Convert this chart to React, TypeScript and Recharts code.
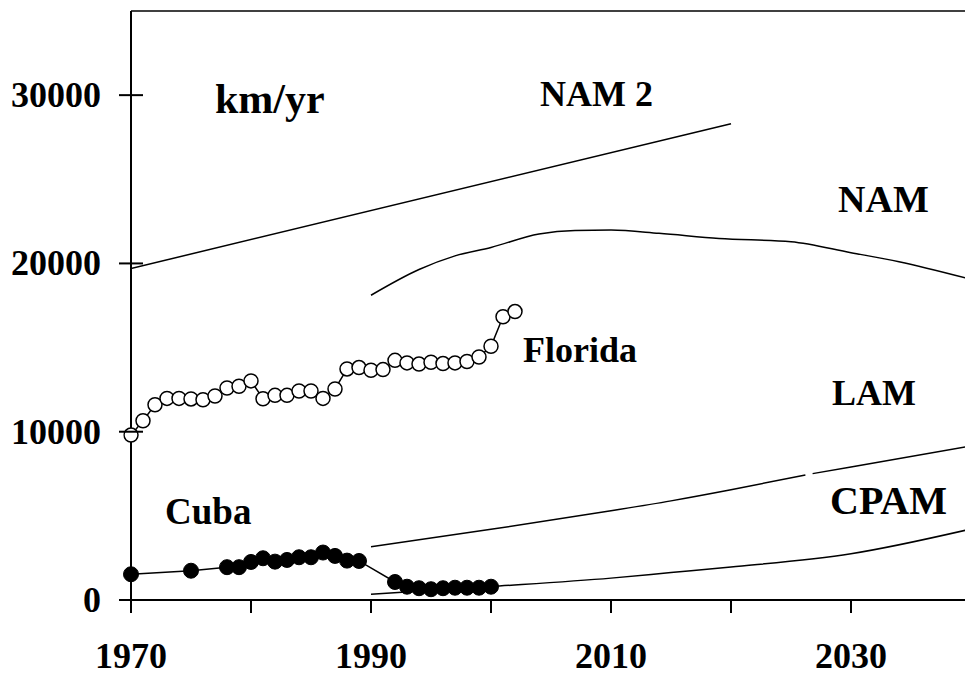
import React from 'react';
import { LineChart, Line, XAxis, YAxis, ReferenceLine } from 'recharts';

// Florida (open circles)
const floridaYears = [1970,1971,1972,1973,1974,1975,1976,1977,1978,1979,1980,1981,1982,1983,1984,1985,1986,1987,1988,1989,1990,1991,1992,1993,1994,1995,1996,1997,1998,1999,2000,2001,2002];
const floridaValues = [9800,10650,11600,11980,11980,11950,11900,12120,12600,12700,13020,11960,12160,12160,12420,12420,11980,12540,13730,13810,13650,13690,14240,14090,14020,14130,14050,14090,14170,14440,15080,16830,17140];

// Cuba (filled circles)
const cubaYears = [1970,1975,1978,1979,1980,1981,1982,1983,1984,1985,1986,1987,1988,1989,1992,1993,1994,1995,1996,1997,1998,1999,2000];
const cubaValues = [1530,1740,1950,1950,2260,2480,2280,2380,2540,2540,2820,2620,2340,2320,1070,790,700,640,700,730,730,730,790];

// Projections
const nam2Years = [1970, 2020];
const nam2Values = [19700, 28300];

const namYears = [1990,1994,1997,2000,2004,2007,2010,2014,2019,2025,2030,2034,2040];
const namValues = [18110,19640,20450,20950,21750,21960,21980,21790,21480,21290,20640,20100,19050];

// LAM is drawn in two pieces (small break near 2026 in the original)
const lamAYears = [1990,2000,2010,2015,2020,2026.2];
const lamAValues = [3170,4200,5300,5890,6550,7430];
const lamBYears = [2026.8,2030,2040];
const lamBValues = [7510,7900,9150];

const cpamYears = [1990,2000,2010,2015,2020,2030,2040];
const cpamValues = [340,800,1300,1630,1960,2750,4220];

const xTicks = [1970,1980,1990,2000,2010,2020,2030];
const yTicks = [0,10000,20000,30000];

const zip = (ys: number[], vs: number[]) => ys.map((year, i) => ({ year, v: vs[i] }));

const florida = zip(floridaYears, floridaValues);
const cuba = zip(cubaYears, cubaValues);
const nam2 = zip(nam2Years, nam2Values);
const nam = zip(namYears, namValues);
const lamA = zip(lamAYears, lamAValues);
const lamB = zip(lamBYears, lamBValues);
const cpam = zip(cpamYears, cpamValues);

const FONT = '"Liberation Serif", "Times New Roman", serif';

const XTick = (props: any) => {
  const { x, y, payload } = props;
  const labeled = payload.value % 20 === 10;
  return (
    <g>
      <line x1={x} x2={x} y1={y} y2={y + 13} stroke="#000" strokeWidth={2} />
      {labeled && (
        <text x={x} y={y + 68} textAnchor="middle" fontFamily={FONT} fontWeight="bold" fontSize={36} fill="#000">
          {payload.value}
        </text>
      )}
    </g>
  );
};

const YTick = (props: any) => {
  const { x, y, payload } = props;
  return (
    <g>
      <line x1={x - 12} x2={x + 12} y1={y} y2={y} stroke="#000" strokeWidth={2} />
      <text x={x - 30} y={y + 12} textAnchor="end" fontFamily={FONT} fontWeight="bold" fontSize={36} fill="#000">
        {payload.value}
      </text>
    </g>
  );
};

const labels: { t: string; x: number; y: number; s: number }[] = [
  { t: 'km/yr', x: 215, y: 113, s: 42 },
  { t: 'NAM 2', x: 540, y: 106, s: 36 },
  { t: 'NAM', x: 838, y: 212, s: 38 },
  { t: 'Florida', x: 523, y: 362, s: 36 },
  { t: 'LAM', x: 832, y: 405, s: 36 },
  { t: 'Cuba', x: 165, y: 524, s: 37 },
  { t: 'CPAM', x: 830, y: 514, s: 40 },
];

const line = { stroke: '#000', strokeWidth: 1.5, isAnimationActive: false } as const;

export default function App() {
  return (
    <div style={{ position: 'absolute', left: 0, top: 0, width: 965, height: 677, background: '#fff' }}>
      <LineChart width={965} height={677} margin={{ top: 11, right: 0, bottom: 0, left: 0 }}>
        <XAxis
          type="number"
          dataKey="year"
          domain={[1970, 2039.5]}
          allowDataOverflow
          ticks={xTicks}
          interval={0}
          height={77}
          tickSize={0}
          tickMargin={0}
          tickLine={false}
          axisLine={{ stroke: '#000', strokeWidth: 2 }}
          tick={<XTick />}
        />
        <YAxis
          type="number"
          domain={[0, 35000]}
          allowDataOverflow
          ticks={yTicks}
          interval={0}
          width={131}
          tickSize={0}
          tickMargin={0}
          tickLine={false}
          axisLine={{ stroke: '#000', strokeWidth: 2 }}
          tick={<YTick />}
        />
        <ReferenceLine y={35000} stroke="#000" strokeWidth={1.5} />
        <Line data={nam2} dataKey="v" type="linear" dot={false} {...line} />
        <Line data={nam} dataKey="v" type="monotone" dot={false} {...line} />
        <Line data={lamA} dataKey="v" type="monotone" dot={false} {...line} />
        <Line data={lamB} dataKey="v" type="monotone" dot={false} {...line} />
        <Line data={cpam} dataKey="v" type="monotone" dot={false} {...line} />
        <Line
          data={florida}
          dataKey="v"
          type="linear"
          dot={{ r: 7, fill: '#fff', stroke: '#000', strokeWidth: 1.5, clipDot: false } as any}
          {...line}
        />
        <Line
          data={cuba}
          dataKey="v"
          type="linear"
          dot={{ r: 7.5, fill: '#000', stroke: '#000', strokeWidth: 1, clipDot: false } as any}
          {...line}
        />
      </LineChart>
      <svg width={965} height={677} style={{ position: 'absolute', left: 0, top: 0, pointerEvents: 'none' }}>
        {labels.map((l) => (
          <text key={l.t} x={l.x} y={l.y} fontFamily={FONT} fontWeight="bold" fontSize={l.s} fill="#000">
            {l.t}
          </text>
        ))}
      </svg>
    </div>
  );
}
